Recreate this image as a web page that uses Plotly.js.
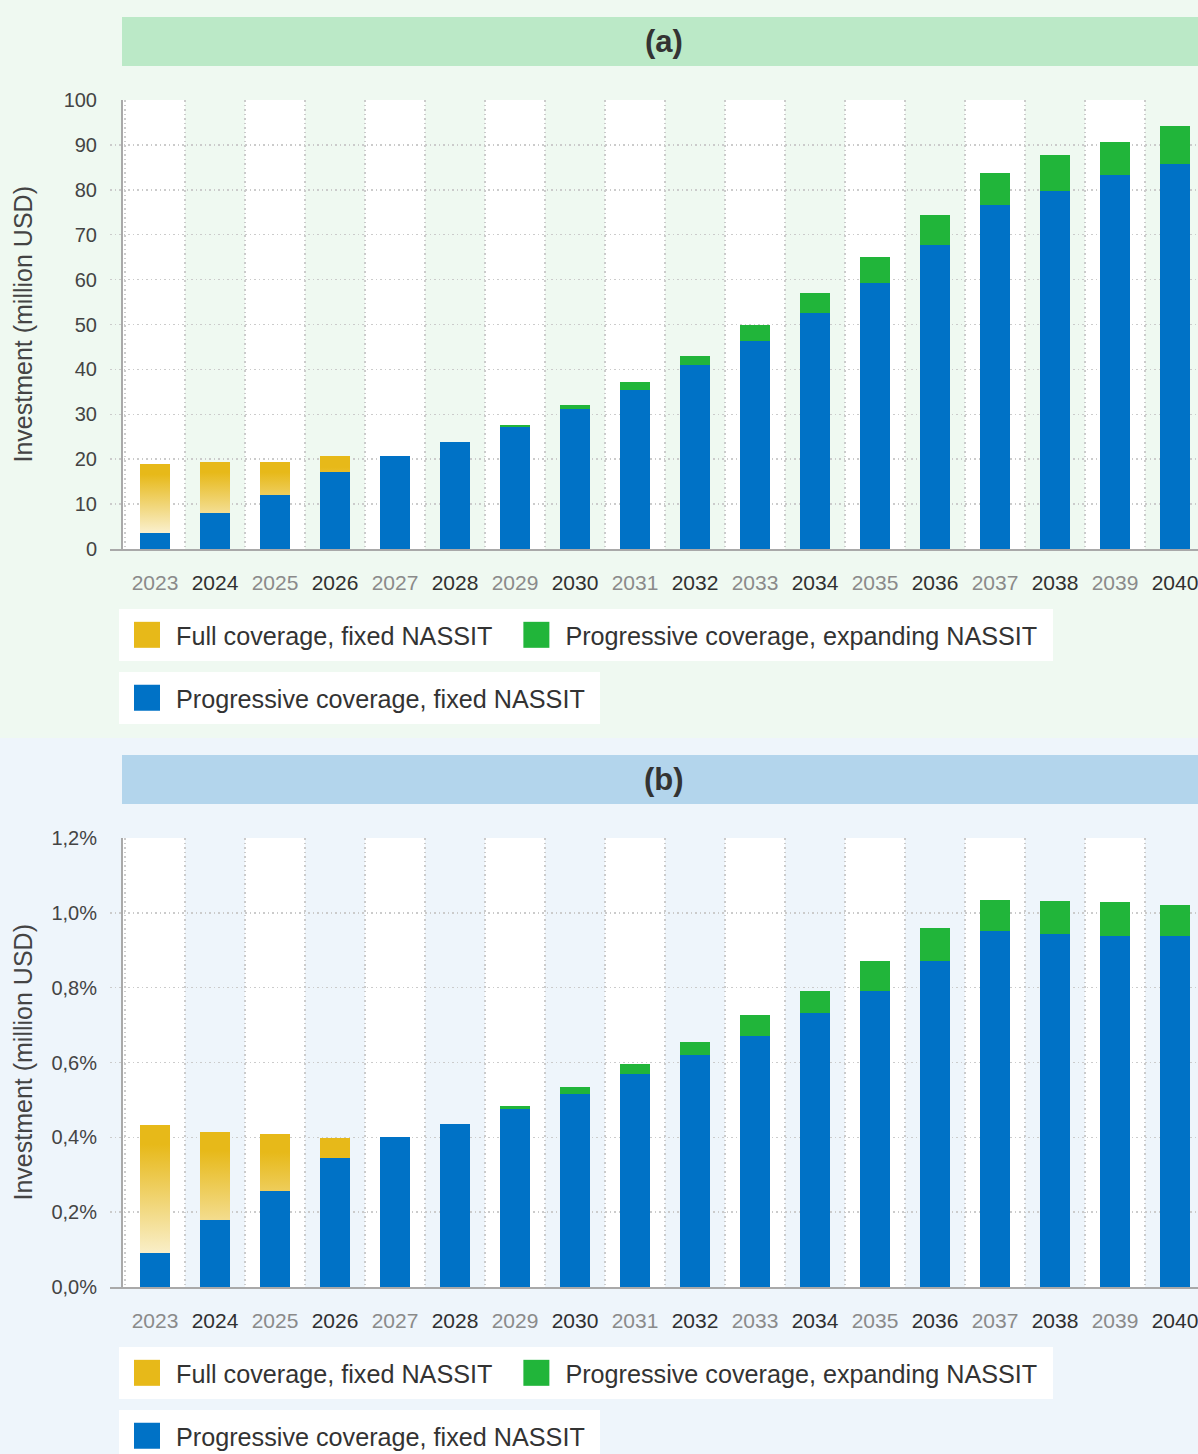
<!DOCTYPE html>
<html><head><meta charset="utf-8">
<script src="https://cdn.plot.ly/plotly-3.0.1.min.js"></script>
<style>
html,body{margin:0;padding:0;width:1198px;height:1454px;overflow:hidden;}
.panel{width:1220px;height:738px;}
</style>
</head><body>
<div id="pa" class="panel"></div>
<div id="pb" class="panel"></div>
<script>
// ---- data ----
const years = [2023,2024,2025,2026,2027,2028,2029,2030,2031,2032,2033,2034,2035,2036,2037,2038,2039,2040];
const seriesNames = ['Full coverage, fixed NASSIT','Progressive coverage, expanding NASSIT','Progressive coverage, fixed NASSIT'];

// Panel (a): million USD
const fullFixedA   = [18.9,19.4,19.4,20.7,null,null,null,null,null,null,null,null,null,null,null,null,null,null];
const progExpandA  = [null,null,null,null,null,null,27.7,32.1,37.2,43.0,49.9,57.0,65.0,74.4,83.7,87.8,90.6,94.2];
const progFixedA   = [3.6,8.0,12.0,17.1,20.7,23.8,27.2,31.2,35.4,41.0,46.3,52.6,59.2,67.7,76.6,79.7,83.3,85.7];

// Panel (b): percent
const fullFixedB   = [0.433,0.414,0.409,0.398,null,null,null,null,null,null,null,null,null,null,null,null,null,null];
const progExpandB  = [null,null,null,null,null,null,0.484,0.534,0.596,0.655,0.727,0.791,0.871,0.959,1.034,1.032,1.029,1.021];
const progFixedB   = [0.091,0.179,0.257,0.345,0.401,0.436,0.476,0.516,0.569,0.620,0.671,0.732,0.791,0.872,0.952,0.943,0.938,0.938];

const yTitle = 'Investment (million USD)';

// ---- style ----
const FONT = 'Liberation Sans, Arial, sans-serif';
const C_YEL = '#e7b919', C_GRN = '#21b53a', C_BLU = '#0072c6';
const NB = '\u00a0';
const GRID = {color:'#cbcbcb', width:1.5, dash:'1.5px,3px'};

function makePanel(divId, cfg) {
  const first = years[0], last = years[years.length-1];
  const axisStart = first - 0.55;
  const tickText = years.map((y,i) => i % 2 === 0
      ? '<span style="color:#8a8a8a">' + y + '</span>'
      : '<span style="color:#303030">' + y + '</span>');
  const shapes = [];
  years.forEach((y,i) => {
    if (i % 2 === 0) {
      shapes.push({type:'rect', xref:'x', yref:'paper', x0: i===0 ? axisStart : y-0.5, x1: y+0.5,
        y0:0, y1:1, fillcolor:'#ffffff', line:{width:0}, layer:'below'});
    }
  });
  // header band
  shapes.push({type:'rect', xref:'x', yref:'paper', x0: axisStart, x1: last+0.6,
    y0:1.0757, y1:1.1849, fillcolor: cfg.band, line:{width:0}, layer:'below'});

  const data = [
    {type:'bar', name: seriesNames[0] + NB + NB, x: years, y: cfg.full, width:0.5,
      marker:{color:C_YEL, line:{width:0}, opacity:1}, legend:'legend'},
    {type:'bar', name: seriesNames[1] + NB, x: years, y: cfg.exp, width:0.5,
      marker:{color:C_GRN, line:{width:0}, opacity:1}, legend:'legend'},
    {type:'bar', name: seriesNames[2] + NB, x: years, y: cfg.fixed, width:0.5,
      marker:{color:C_BLU, line:{width:0}, opacity:1}, legend:'legend2'}
  ];
  const legendBase = {orientation:'h', xanchor:'left', yanchor:'top', x:9/1095,
    bgcolor:'#ffffff', bordercolor:'#ffffff', borderwidth:3, itemwidth:44, traceorder:'normal',
    font:{family:FONT, size:25.2, color:'#333333'}};
  const layout = {
    width:1220, height:738,
    margin:{l:110, r:15, t:100, b:189, pad:0},
    paper_bgcolor: cfg.bg, plot_bgcolor: cfg.bg,
    barmode:'overlay', bargap:0,
    separators: ', ',
    font:{family:FONT, color:'#333333'},
    showlegend:true,
    xaxis:{type:'linear', range:[first-0.75, last+0.5], tickvals: years, ticktext: tickText,
      ticks:'', showgrid:false, zeroline:false, showline:true, linecolor:'#a9a9a9', linewidth:2,
      ticklabelstandoff: 14, tickfont:{family:FONT, size:21},
      minor:{tick0:first-0.5, dtick:1, showgrid:true, gridcolor:GRID.color, gridwidth:GRID.width, griddash:GRID.dash, ticks:''},
      fixedrange:true, automargin:false},
    yaxis:{range:cfg.yrange, dtick:cfg.dtick, tickformat:cfg.tickformat, ticksuffix:cfg.suffix,
      anchor:'free', position: 12/1095, showline:true, linecolor:'#a9a9a9', linewidth:2,
      showgrid:true, gridcolor:GRID.color, gridwidth:GRID.width, griddash:GRID.dash, zeroline:false,
      ticks:'', ticklabelstandoff: 20, tickfont:{family:FONT, size:20, color:'#444444'},
      fixedrange:true, automargin:false},
    legend: Object.assign({}, legendBase, {y:-0.1335}),
    legend2: Object.assign({}, legendBase, {y:-0.2735}),
    shapes: shapes,
    annotations:[
      {xref:'x', yref:'paper', x:(axisStart + last + 0.5)/2, y:1.1303, text:'<b>'+cfg.label+'</b>',
        showarrow:false, font:{family:FONT, size:31, color:'#333333'}, xanchor:'center', yanchor:'middle'},
      {xref:'paper', yref:'paper', x:-88/1095, y:0.5, text: yTitle, textangle:-90,
        showarrow:false, font:{family:FONT, size:25, color:'#444444'}, xanchor:'center', yanchor:'middle'}
    ]
  };
  return Plotly.newPlot(divId, data, layout, {staticPlot:true, displayModeBar:false}).then(gd => {
    const ns = 'http://www.w3.org/2000/svg';
    const svg = gd.querySelector('svg.main-svg');
    let defs = svg.querySelector('defs');
    if (!defs) { defs = document.createElementNS(ns,'defs'); svg.insertBefore(defs, svg.firstChild); }
    const gid = 'gradY_' + divId;
    const lg = document.createElementNS(ns,'linearGradient');
    lg.setAttribute('id', gid); lg.setAttribute('x1','0'); lg.setAttribute('y1','0');
    lg.setAttribute('x2','0'); lg.setAttribute('y2','1');
    [['0', C_YEL],['0.12', C_YEL],['1','#ffffff']].forEach(s => {
      const st = document.createElementNS(ns,'stop');
      st.setAttribute('offset', s[0]); st.setAttribute('stop-color', s[1]);
      lg.appendChild(st);
    });
    defs.appendChild(lg);
    const traces = gd.querySelectorAll('.barlayer .trace');
    if (traces.length) traces[0].querySelectorAll('path').forEach(p => { p.style.fill = 'url(#' + gid + ')'; });
    gd.querySelectorAll('.legendpoints path').forEach(p => { p.setAttribute('d','M11,13H-15V-13H11Z'); });
  });
}

makePanel('pa', {full: fullFixedA, exp: progExpandA, fixed: progFixedA, yrange:[0,100], dtick:10,
  tickformat:'d', suffix:'', bg:'#eff9f1', band:'#bbe9c7', label:'(a)'});
makePanel('pb', {full: fullFixedB, exp: progExpandB, fixed: progFixedB, yrange:[0,1.2], dtick:0.2,
  tickformat:'.1f', suffix:'%', bg:'#eef5fb', band:'#b3d5ec', label:'(b)'});
</script>
</body></html>
